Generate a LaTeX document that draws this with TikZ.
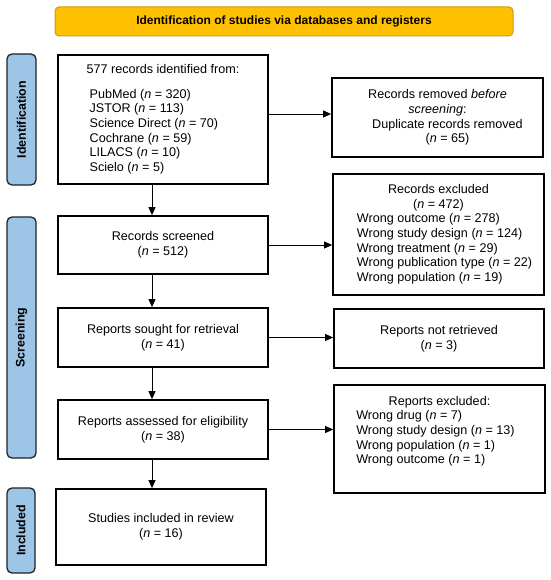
\documentclass[tikz,border=0pt]{standalone}
\usepackage{fontspec}
\setmainfont{Liberation Sans}
\usetikzlibrary{arrows.meta}
\definecolor{bannerfill}{RGB}{255,192,0}
\definecolor{bannerdraw}{RGB}{205,155,20}
\definecolor{sidefill}{RGB}{157,197,232}
\definecolor{sidedraw}{RGB}{35,35,35}
\newcommand{\nn}{\textit{n}}
\begin{document}
\begin{tikzpicture}[x=1pt,y=-1pt,
  box/.style={draw=black, line width=1.8pt, fill=white, inner sep=2pt, align=center,
    font=\fontsize{12.6}{14.7}\selectfont},
  banner/.style={draw=bannerdraw, line width=1pt, fill=bannerfill, rounded corners=4pt,
    inner sep=0pt, font=\bfseries\fontsize{12}{14}\selectfont},
  side/.style={draw=sidedraw, line width=1.3pt, fill=sidefill, rounded corners=5pt,
    inner sep=0pt, rotate=90, font=\bfseries\fontsize{12.4}{14}\selectfont},
  arr/.style={-{Triangle[length=8pt,width=7pt]}, line width=0.8pt}]
\useasboundingbox[fill=white] (0,0) rectangle (550,580);

\node[banner, minimum width=458pt, minimum height=29pt] (ban) at (284,21.5)
  {Identification of studies via databases and registers};

\node[side, minimum width=131pt, minimum height=29pt] (sid) at (21.5,119.5) {Identification};
\node[side, minimum width=241pt, minimum height=29pt] (sscr) at (21.5,337.5) {Screening};
\node[side, minimum width=85pt, minimum height=28pt] (sinc) at (21,530.5) {Included};

\node[box, minimum width=210pt, minimum height=129pt] (box1) at (163,119.5)
  {\begin{tabular}{@{\hspace{3pt}}l@{}}
   \multicolumn{1}{@{}c@{}}{577 records identified from:}\\[10pt]
   PubMed (\nn{} = 320)\\
   JSTOR (\nn{} = 113)\\
   Science Direct (\nn{} = 70)\\
   Cochrane (\nn{} = 59)\\
   LILACS (\nn{} = 10)\\
   Scielo (\nn{} = 5)
   \end{tabular}};

\node[box, minimum width=211pt, minimum height=79pt] (removed) at (437.5,117.5)
  {Records removed \textit{before}\\ \textit{screening}:\\ \hspace*{20pt}Duplicate records removed\\ \hspace*{20pt}(\nn{} = 65)};

\node[box, minimum width=210pt, minimum height=58pt] (screened) at (163,245)
  {Records screened\\ (\nn{} = 512)};

\node[box, minimum width=211pt, minimum height=121pt] (excluded) at (438.5,234.5)
  {\begin{tabular}{@{\hspace{12pt}}l@{}}
   \multicolumn{1}{@{}c@{}}{Records excluded}\\
   \multicolumn{1}{@{}c@{}}{(\nn{} = 472)}\\
   Wrong outcome (\nn{} = 278)\\
   Wrong study design (\nn{} = 124)\\
   Wrong treatment (\nn{} = 29)\\
   Wrong publication type (\nn{} = 22)\\
   Wrong population (\nn{} = 19)
   \end{tabular}};

\node[box, minimum width=210pt, minimum height=59pt] (sought) at (163,337.5)
  {Reports sought for retrieval\\ (\nn{} = 41)};

\node[box, minimum width=210pt, minimum height=59pt] (notret) at (439,338.5)
  {Reports not retrieved\\ (\nn{} = 3)};

\node[box, minimum width=210pt, minimum height=59pt] (assessed) at (163,429.5)
  {Reports assessed for eligibility\\ (\nn{} = 38)};

\node[box, minimum width=211pt, minimum height=108pt] (repexcl) at (439.5,439)
  {\begin{tabular}{@{}l@{\hspace{8pt}}}
   \multicolumn{1}{@{}c@{}}{Reports excluded:}\\
   Wrong drug (\nn{} = 7)\\
   Wrong study design (\nn{} = 13)\\
   Wrong population (\nn{} = 1)\\
   Wrong outcome (\nn{} = 1)\\
   \mbox{}
   \end{tabular}};

\node[box, minimum width=210pt, minimum height=76pt] (studies) at (161,527)
  {Studies included in review\\ (\nn{} = 16)};

\draw[arr] ([yshift=5.5pt]box1.east) -- ([yshift=5.5pt]box1.east -| removed.west);
\draw[arr] (screened.east) -- (screened.east -| excluded.west);
\draw[arr] (sought.east) -- (sought.east -| notret.west);
\draw[arr] (assessed.east) -- (assessed.east -| repexcl.west);

\draw[arr] ([xshift=-11pt]box1.south) -- ([xshift=-11pt]box1.south |- screened.north);
\draw[arr] ([xshift=-11pt]screened.south) -- ([xshift=-11pt]screened.south |- sought.north);
\draw[arr] ([xshift=-11pt]sought.south) -- ([xshift=-11pt]sought.south |- assessed.north);
\draw[arr] ([xshift=-11pt]assessed.south) -- ([xshift=-11pt]assessed.south |- studies.north);
\end{tikzpicture}
\end{document}
